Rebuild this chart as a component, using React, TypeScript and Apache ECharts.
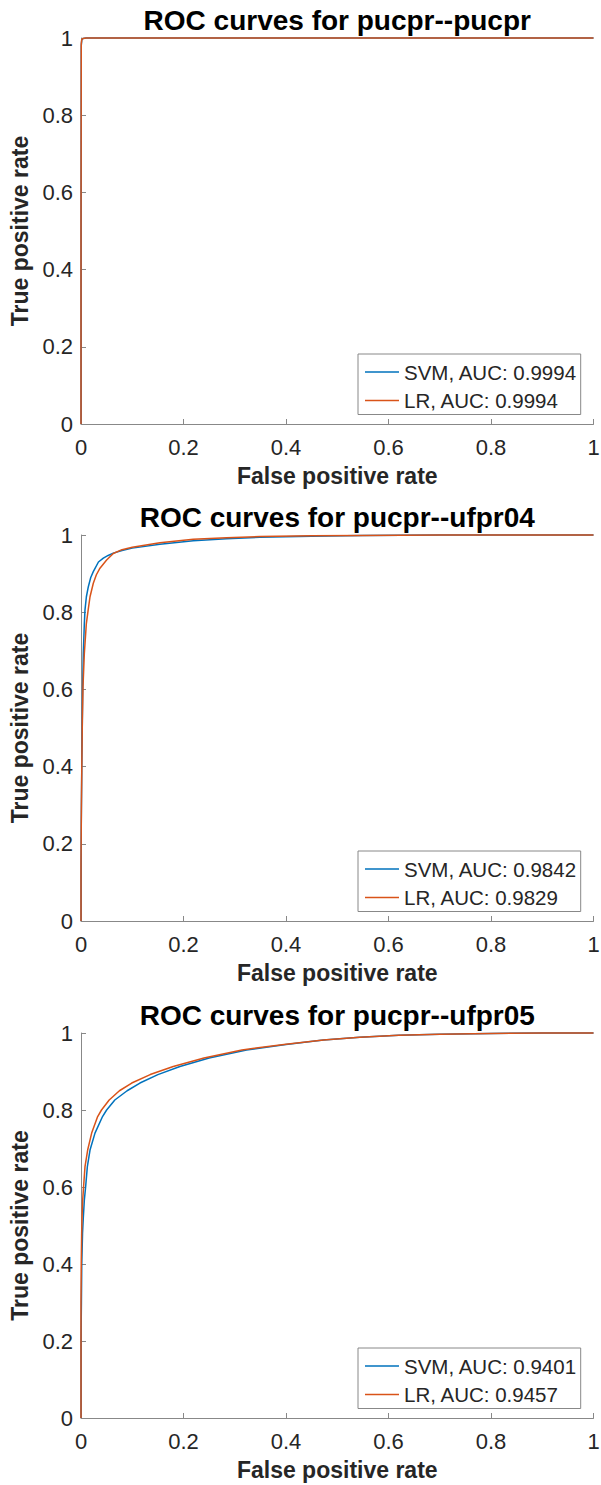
import React, { useEffect, useRef } from 'react';
import * as echarts from 'echarts';

// ---------- data ----------
const TITLES = [
  'ROC curves for pucpr--pucpr',
  'ROC curves for pucpr--ufpr04',
  'ROC curves for pucpr--ufpr05',
];
const X_NAME = 'False positive rate';
const Y_NAME = 'True positive rate';
const SVM_AUC = ['0.9994', '0.9842', '0.9401'];
const LR_AUC = ['0.9994', '0.9829', '0.9457'];

const SVM_1: [number, number][] = [
  [0, 0], [0, 0.5], [0.0005, 0.98], [0.0015, 0.995], [0.004, 0.999], [0.01, 1], [1, 1],
];
const LR_1: [number, number][] = [
  [0, 0], [0, 0.5], [0.0005, 0.985], [0.0015, 0.996], [0.004, 0.999], [0.01, 1], [1, 1],
];

const SVM_2: [number, number][] = [
  [0, 0], [0, 0.1], [0.0005, 0.25], [0.0015, 0.39], [0.0026, 0.52], [0.0033, 0.607],
  [0.0045, 0.693], [0.0065, 0.77], [0.0078, 0.806], [0.0105, 0.84], [0.0143, 0.866],
  [0.019, 0.89], [0.024, 0.905], [0.034, 0.93], [0.0436, 0.94], [0.053, 0.947],
  [0.063, 0.953], [0.08, 0.96], [0.1, 0.966], [0.154, 0.976], [0.219, 0.985],
  [0.284, 0.99], [0.349, 0.994], [0.45, 0.997], [0.55, 0.999], [0.7, 1], [1, 1],
];
const LR_2: [number, number][] = [
  [0, 0], [0, 0.15], [0.0008, 0.3], [0.0015, 0.39], [0.0026, 0.52], [0.0039, 0.607],
  [0.0065, 0.693], [0.0104, 0.77], [0.014, 0.806], [0.0176, 0.84], [0.024, 0.875],
  [0.03, 0.897], [0.037, 0.914], [0.05, 0.935], [0.063, 0.952], [0.08, 0.962],
  [0.1, 0.968], [0.154, 0.98], [0.219, 0.989], [0.284, 0.993], [0.349, 0.996],
  [0.45, 0.998], [0.55, 0.999], [0.7, 1], [1, 1],
];

const SVM_3: [number, number][] = [
  [0, 0], [0, 0.2], [0.0008, 0.3], [0.0015, 0.4], [0.003, 0.48], [0.0045, 0.52],
  [0.0065, 0.566], [0.009, 0.6], [0.0124, 0.653], [0.0176, 0.696], [0.0273, 0.74],
  [0.042, 0.783], [0.05, 0.8], [0.066, 0.826], [0.09, 0.85], [0.115, 0.87],
  [0.15, 0.892], [0.193, 0.913], [0.25, 0.935], [0.323, 0.956], [0.4, 0.97],
  [0.473, 0.982], [0.544, 0.989], [0.62, 0.994], [0.7, 0.997], [0.8, 0.999],
  [0.9, 1], [1, 1],
];
const LR_3: [number, number][] = [
  [0, 0], [0, 0.3], [0.0005, 0.4], [0.0013, 0.48], [0.002, 0.52], [0.0033, 0.566],
  [0.005, 0.6], [0.0078, 0.653], [0.013, 0.696], [0.0208, 0.74], [0.0325, 0.783],
  [0.04, 0.8], [0.055, 0.826], [0.075, 0.85], [0.099, 0.87], [0.135, 0.892],
  [0.18, 0.913], [0.24, 0.935], [0.314, 0.956], [0.4, 0.971], [0.473, 0.982],
  [0.544, 0.989], [0.62, 0.994], [0.7, 0.997], [0.8, 0.999], [0.9, 1], [1, 1],
];

const SVM_DATA = [SVM_1, SVM_2, SVM_3];
const LR_DATA = [LR_1, LR_2, LR_3];

// ---------- style / layout ----------
const FONT = '"Liberation Sans", Arial, Helvetica, sans-serif';
const BLUE = '#0072BD';
const ORANGE = '#D95319';
const AXIS_COLOR = '#888888';
const TEXT_COLOR = '#262626';
const GRID_LEFT = 81;
const GRID_WIDTH = 512.5;
const GRID_TOPS = [38, 535, 1033];
const GRID_HEIGHTS = [386, 386, 385];

function buildOption() {
  const grid: any[] = [];
  const xAxis: any[] = [];
  const yAxis: any[] = [];
  const series: any[] = [];
  const legend: any[] = [];
  const graphic: any[] = [];

  for (let i = 0; i < 3; i++) {
    const top = GRID_TOPS[i];
    const h = GRID_HEIGHTS[i];
    grid.push({
      left: GRID_LEFT,
      top,
      width: GRID_WIDTH,
      height: h,
      containLabel: false,
      outerBoundsMode: 'none',
    });
    const axisCommon = {
      gridIndex: i,
      type: 'value',
      min: 0,
      max: 1,
      interval: 0.2,
      nameLocation: 'middle',
      nameTextStyle: { fontSize: 23, fontWeight: 'bold', color: TEXT_COLOR, fontFamily: FONT },
      axisLine: { show: true, onZero: false, lineStyle: { color: AXIS_COLOR, width: 1 } },
      axisTick: { show: true, inside: true, length: 5, lineStyle: { color: AXIS_COLOR, width: 1 } },
      splitLine: { show: false },
    };
    xAxis.push({
      ...axisCommon,
      name: X_NAME,
      nameGap: 40,
      axisLabel: { margin: 12, fontSize: 22, color: TEXT_COLOR, fontFamily: FONT },
    });
    yAxis.push({
      ...axisCommon,
      name: Y_NAME,
      nameGap: 41,
      axisLabel: { margin: 8, fontSize: 22, color: TEXT_COLOR, fontFamily: FONT },
    });
    const svmName = `SVM, AUC: ${SVM_AUC[i]}`;
    const lrName = `LR, AUC: ${LR_AUC[i]}`;
    series.push({
      type: 'line',
      name: svmName,
      xAxisIndex: i,
      yAxisIndex: i,
      data: SVM_DATA[i],
      symbol: 'none',
      showSymbol: false,
      clip: false,
      lineStyle: { color: BLUE, width: 1.5 },
      itemStyle: { color: BLUE },
    });
    series.push({
      type: 'line',
      name: lrName,
      xAxisIndex: i,
      yAxisIndex: i,
      data: LR_DATA[i],
      symbol: 'none',
      showSymbol: false,
      clip: false,
      lineStyle: { color: ORANGE, width: 1.5 },
      itemStyle: { color: ORANGE },
    });
    legend.push({
      data: [svmName, lrName],
      orient: 'vertical',
      left: 358,
      top: top + h - 70,
      padding: [7.5, 3.5, 3.5, 7],
      icon: 'rect',
      itemWidth: 34,
      itemHeight: 1.5,
      itemGap: 7.5,
      backgroundColor: '#ffffff',
      borderColor: AXIS_COLOR,
      borderWidth: 1,
      borderRadius: 0,
      selectedMode: false,
      textStyle: { fontSize: 20.5, lineHeight: 20, color: TEXT_COLOR, fontFamily: FONT },
    });
    graphic.push({
      type: 'text',
      x: GRID_LEFT + GRID_WIDTH / 2,
      y: top - 17.2,
      style: {
        text: TITLES[i],
        font: `bold 28px ${FONT}`,
        fill: '#000000',
        textAlign: 'center',
        textVerticalAlign: 'middle',
        align: 'center',
        verticalAlign: 'middle',
      },
    });
  }

  return {
    animation: false,
    backgroundColor: '#ffffff',
    grid,
    xAxis,
    yAxis,
    series,
    legend,
    graphic,
  };
}

export default function App() {
  const ref = useRef<HTMLDivElement>(null);
  useEffect(() => {
    if (!ref.current) return;
    const chart = echarts.init(ref.current, null, { renderer: 'svg' });
    chart.setOption(buildOption() as any);
    return () => chart.dispose();
  }, []);
  return (
    <div
      ref={ref}
      style={{ position: 'absolute', left: 0, top: 0, width: 601, height: 1485, background: '#fff' }}
    />
  );
}
